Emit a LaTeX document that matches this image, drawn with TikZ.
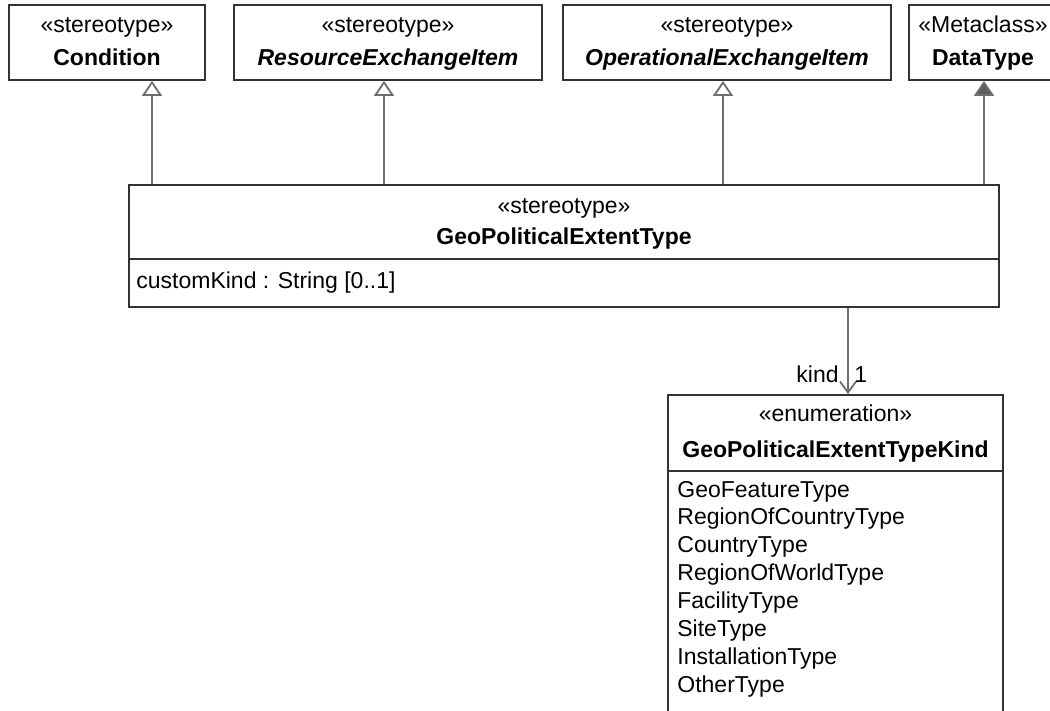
\documentclass[tikz,border=0pt]{standalone}
\usepackage{fontspec}
\setmainfont{Liberation Sans}
\usetikzlibrary{arrows.meta,fit}
\definecolor{boxline}{HTML}{333333}
\definecolor{linkline}{HTML}{6E6E6E}
\tikzset{
    umlbox/.style={draw=boxline,line width=0.9pt,inner sep=0pt},
    txt/.style={inner sep=0pt,font=\fontsize{11.5}{13.9}\selectfont},
    clsname/.style={inner sep=0pt,font=\fontsize{11.5}{13.9}\selectfont\bfseries},
    absname/.style={inner sep=0pt,font=\fontsize{11.5}{13.9}\selectfont\bfseries\itshape},
    gen/.style={draw=linkline,line width=0.9pt,-{Triangle[open,width=10pt,length=7.5pt]}},
    meta/.style={draw=linkline,line width=0.9pt,-{Triangle[width=10pt,length=7.5pt,fill=boxline!80]}},
    assoc/.style={draw=linkline,line width=0.9pt,-{Straight Barb[width=8pt,length=5.5pt]}}
}

\begin{document}
\begin{tikzpicture}[x=0.5pt,y=-0.5pt]
\useasboundingbox (0,0) rectangle (1050,711);

% top row
\node[umlbox, fit={(9,5) (205,80)}] (cond) {};
\node[umlbox, fit={(234,5) (542,80)}] (rei) {};
\node[umlbox, fit={(563,5) (891,80)}] (oei) {};
\node[umlbox, fit={(909,5) (1057,80)}] (dt) {};

\node[txt, anchor=base] (cond-st) at (107,33) {«stereotype»};
\node[clsname, anchor=base] (cond-nm) at (107,66) {Condition};
\node[txt, anchor=base] (rei-st) at (388,33) {«stereotype»};
\node[absname, anchor=base] (rei-nm) at (388,66) {ResourceExchangeItem};
\node[txt, anchor=base] (oei-st) at (727,33) {«stereotype»};
\node[absname, anchor=base] (oei-nm) at (727,66) {OperationalExchangeItem};
\node[txt, anchor=base] (dt-st) at (983,33) {«Metaclass»};
\node[clsname, anchor=base] (dt-nm) at (983,66) {DataType};

% stereotype
\node[umlbox, fit={(129,185) (999,307)}] (gpet) {};
\draw[umlbox] (gpet.west |- 0,259) -- (gpet.east |- 0,259);
\node[txt, anchor=base] (gpet-st) at (564,214) {«stereotype»};
\node[clsname, anchor=base] (gpet-nm) at (564,245) {GeoPoliticalExtentType};
\node[txt, anchor=base west] (gpet-at) at (136,289) {customKind : String [0..1]};

% enumeration
\node[umlbox, fit={(668,395) (1003,740)}] (gpetk) {};
\draw[umlbox] (gpetk.west |- 0,471) -- (gpetk.east |- 0,471);
\node[txt, anchor=base] (gpetk-st) at (835.5,422) {«enumeration»};
\node[clsname, anchor=base] (gpetk-nm) at (835.5,457) {GeoPoliticalExtentTypeKind};
\foreach \lit [count=\i] in {GeoFeatureType,RegionOfCountryType,CountryType,RegionOfWorldType,FacilityType,SiteType,InstallationType,OtherType}
    \node[txt, anchor=base west] (lit\i) at (677,{497+27.9*(\i-1)}) {\lit};

% generalizations
\draw[gen] (gpet.north -| 152,0) -- (cond.south -| 152,0);
\draw[gen] (gpet.north -| 384,0) -- (rei.south -| 384,0);
\draw[gen] (gpet.north -| 723,0) -- (oei.south -| 723,0);
\draw[meta] (gpet.north -| 984,0) -- (dt.south -| 984,0);

% association
\draw[assoc] (gpet.south -| 848,0) -- (gpetk.north -| 848,0);
\node[txt, anchor=base east] (kind) at (839,382) {kind};
\node[txt, anchor=base west] (mult) at (854,382) {1};

\end{tikzpicture}
\end{document}
